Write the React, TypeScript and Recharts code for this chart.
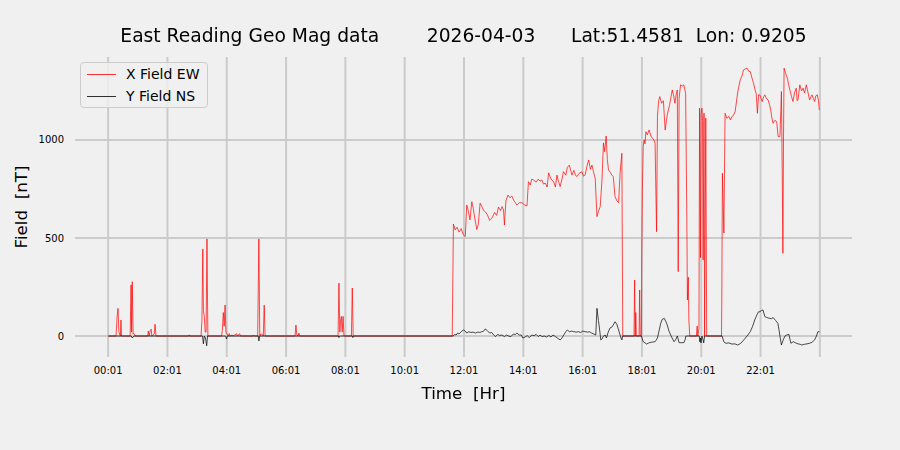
import { LineChart, Line, XAxis, YAxis, CartesianGrid } from "recharts";

// X Field EW (red): hours after midnight, nT
const ewTimes = [
  0.02, 0.28, 0.3, 0.32, 0.35, 0.38, 0.43, 0.45, 0.47,
  0.76, 0.79, 0.81, 0.83, 0.86, 0.89, 0.93,
  1.35, 1.37, 1.4, 1.44, 1.47, 1.49, 1.57, 1.6, 1.63,
  2.73, 2.75, 2.77,
  3.15, 3.18, 3.21, 3.23, 3.26, 3.29, 3.32, 3.35, 3.38,
  3.84, 3.87, 3.9, 3.93, 3.96, 3.99, 4.03, 4.06, 4.1, 4.13, 4.2, 4.23, 4.35, 4.38, 4.45, 4.48,
  4.9, 4.92, 4.95, 5.06, 5.1, 5.13, 5.16, 5.2, 5.25, 5.28, 5.31,
  6.32, 6.35, 6.38, 6.42, 6.45, 6.48,
  7.77, 7.8, 7.83, 7.85, 7.88, 7.91, 7.94, 7.97, 8.22, 8.25, 8.28,
  11.62, 11.66, 11.72, 11.78, 11.85, 11.92, 12.0, 12.06, 12.11, 12.16, 12.22, 12.28, 12.33, 12.38,
  12.45, 12.5, 12.56, 12.62, 12.68, 12.73, 12.8, 12.88, 12.96, 13.05, 13.12, 13.18, 13.25, 13.3,
  13.35, 13.38, 13.43, 13.5, 13.57, 13.63, 13.7, 13.75, 13.8, 13.88, 13.97, 14.05, 14.14, 14.19,
  14.25, 14.3, 14.36, 14.45, 14.52, 14.58, 14.64, 14.7, 14.76, 14.82, 14.87, 14.95, 15.04, 15.1,
  15.15, 15.2, 15.26, 15.32, 15.37, 15.45, 15.5, 15.57, 15.62, 15.66, 15.72, 15.78, 15.82, 15.9,
  15.99, 16.05, 16.1, 16.17, 16.22, 16.28, 16.33, 16.38, 16.44, 16.5, 16.56, 16.61, 16.67, 16.72,
  16.76, 16.81, 16.85, 16.89, 16.95, 17.0, 17.05, 17.11, 17.17, 17.23, 17.28, 17.34, 17.37,
  17.75, 17.77, 17.79, 17.81, 17.83, 17.92, 17.94, 17.96,
  18.0, 18.01, 18.03, 18.06, 18.09, 18.12, 18.15, 18.2, 18.26, 18.32, 18.37, 18.42, 18.46, 18.51,
  18.54, 18.58, 18.62, 18.68, 18.74, 18.8, 18.87, 18.95, 19.04, 19.08, 19.13, 19.18, 19.21, 19.24,
  19.27, 19.32, 19.38, 19.43, 19.49, 19.53, 19.55, 19.58, 19.6, 19.63,
  19.85, 19.88, 19.9, 19.94, 19.96, 19.99, 20.01, 20.04, 20.06, 20.08, 20.11, 20.13, 20.17, 20.2,
  20.7, 20.71, 20.73, 20.78, 20.82, 20.88, 20.95, 21.0, 21.05, 21.1, 21.16, 21.25, 21.33, 21.4,
  21.44, 21.5, 21.56, 21.62, 21.67, 21.72, 21.78, 21.84, 21.87, 21.91, 21.95, 21.99, 22.04, 22.07,
  22.12, 22.16, 22.22, 22.27, 22.32, 22.36, 22.4, 22.44, 22.5, 22.56, 22.61, 22.67, 22.7, 22.72,
  22.75, 22.77, 22.79, 22.81, 22.86, 22.92, 22.98, 23.06, 23.11, 23.16, 23.22, 23.25, 23.28, 23.34,
  23.4, 23.45, 23.5, 23.56, 23.62, 23.67, 23.72, 23.75, 23.8, 23.84, 23.88, 23.93, 23.97, 24.0,
];
const ewField = [
  0, 0, 40, 100, 141, 20, 0, 82, 0,
  0, 260, 20, 277, 10, 12, 0,
  0, 25, 0, 30, 35, 0, 10, 60, 0,
  0, 6, 0,
  0, 80, 444, 130, 100, 20, 20, 495, 0,
  0, 30, 120, 50, 158, 20, 10, 0, 12, 0, 5, 0, 12, 0, 12, 0,
  0, 5, 0, 0, 495, 0, 10, 10, 0, 158, 0,
  0, 56, 5, 0, 15, 0,
  0, 270, 20, 72, 100, 20, 100, 0, 0, 245, 0,
  0, 571, 541, 555, 530, 548, 515, 507, 668, 640, 592, 685, 650, 600,
  543, 570, 678, 660, 640, 634, 620, 590, 602, 630, 615, 658, 640, 660,
  643, 566, 690, 719, 705, 714, 690, 680, 668, 680, 680, 670, 663, 787,
  770, 800, 796, 785, 800, 790, 796, 775, 780, 760, 832, 800, 787, 760,
  821, 790, 762, 800, 838, 820, 860, 872, 840, 821, 845, 820, 813, 830,
  838, 815, 821, 870, 898, 850, 872, 838, 806, 609, 640, 660, 796, 985,
  940, 1020, 900, 847, 835, 821, 813, 711, 690, 680, 832, 932, 0,
  0, 286, 0, 120, 0, 0, 235, 0,
  0, 398, 737, 966, 1000, 980, 1042, 1026, 1051, 1020, 1009, 1000, 983, 532,
  1119, 1200, 1221, 1187, 1200, 1051, 1128, 1180, 1255, 1230, 1187, 1240, 1255, 328,
  1213, 1281, 1275, 1281, 1238, 600, 184, 300, 82, 0,
  0, 51, 0, 40, 1162, 400, 1130, 1162, 1100, 388, 1136, 0, 1111, 0,
  0, 184, 830, 525, 1136, 1110, 1120, 1102, 1119, 1125, 1145, 1247, 1306, 1330,
  1357, 1362, 1366, 1350, 1349, 1320, 1289, 1250, 1238, 1136, 1230, 1230, 1210, 1196,
  1220, 1230, 1210, 1204, 1180, 1153, 1110, 1085, 1100, 1094, 1017, 1017, 1150, 1247,
  800, 422, 1000, 1366, 1340, 1315, 1270, 1221, 1196, 1240, 1264, 1200, 1204, 1281,
  1250, 1264, 1240, 1281, 1240, 1204, 1220, 1230, 1210, 1196, 1225, 1230, 1200, 1153,
];

// Y Field NS (black)
const nsTimes = [
  0.02, 0.8, 0.83, 0.86, 0.89, 3.2, 3.23, 3.26, 3.3, 3.34, 3.37, 3.98, 4.01, 4.04,
  5.08, 5.1, 5.13, 7.78, 7.8, 7.82, 8.25, 8.27, 8.29,
  11.66, 11.7, 11.75, 11.8, 11.85, 11.92, 12.0, 12.06, 12.11, 12.18, 12.25, 12.32, 12.4, 12.48,
  12.55, 12.62, 12.68, 12.73, 12.8, 12.88, 12.95, 13.02, 13.08, 13.15, 13.22, 13.3, 13.38, 13.45,
  13.52, 13.6, 13.68, 13.75, 13.8, 13.88, 13.95, 14.0, 14.08, 14.15, 14.22, 14.3, 14.38, 14.45,
  14.52, 14.58, 14.65, 14.72, 14.8, 14.88, 14.95, 15.02, 15.1, 15.18, 15.26, 15.32, 15.38, 15.45,
  15.5, 15.57, 15.65, 15.72, 15.8, 15.88, 15.95, 16.02, 16.1, 16.18, 16.25, 16.32, 16.4, 16.46,
  16.5, 16.55, 16.6, 16.63, 16.67, 16.72, 16.78, 16.82, 16.88, 16.94, 17.0, 17.05, 17.11, 17.17,
  17.23, 17.3, 17.34, 17.37,
  18.0, 18.03, 18.06, 18.12, 18.17, 18.25, 18.32, 18.4, 18.46, 18.5, 18.54, 18.6, 18.65, 18.7,
  18.77, 18.82, 18.87, 18.93, 19.0, 19.05, 19.1, 19.15, 19.21, 19.27, 19.35, 19.43, 19.47, 19.5,
  19.95, 19.97, 19.99, 20.01, 20.04, 20.08, 20.1, 20.13,
  20.72, 20.78, 20.85, 20.95, 21.05, 21.15, 21.25, 21.35, 21.45, 21.56, 21.67, 21.75, 21.82, 21.9,
  21.95, 21.99, 22.05, 22.1, 22.16, 22.22, 22.27, 22.33, 22.38, 22.44, 22.52, 22.6, 22.64, 22.67,
  22.72, 22.78, 22.84, 22.9, 22.97, 23.04, 23.12, 23.2, 23.28, 23.35, 23.41, 23.5, 23.58, 23.67,
  23.75, 23.84, 23.9, 23.95, 24.0,
];
const nsField = [
  0, 0, -10, -5, 0, 0, -40, 0, -10, -50, 0, 0, -15, 0,
  0, -25, 0, 0, -8, 0, 0, -8, 0,
  0, 8, 5, 15, 10, 22, 31, 25, 15, 22, 18, 20, 15, 20,
  18, 22, 25, 36, 28, 15, 18, 5, -3, 8, 3, 5, -3, 5,
  0, -3, 10, 8, 15, 5, 5, -10, -5, 2, -8, 5, 2, 8,
  -3, 5, -3, 0, -5, 3, -5, 5, -3, -12, -20, -10, 5, 22,
  31, 22, 25, 22, 20, 22, 18, 25, 22, 20, 22, 15, 10, 5,
  141, 80, 20, -20, -15, 0, 5, -10, 20, 41, 45, 56, 73, 60,
  31, -5, -20, 0,
  0, -15, -29, -35, -41, -35, -32, -30, -29, -20, -10, 30, 65, 85,
  90, 75, 56, 25, 0, -15, -29, -20, 0, -34, -34, -34, -20, 0,
  0, -30, -10, -35, 0, -20, -35, 0,
  0, -30, -37, -35, -41, -40, -46, -37, -20, 0, 22, 50, 82, 110,
  124, 124, 130, 133, 99, 95, 92, 90, 88, 94, 80, 65, 30, 0,
  -46, -20, 0, 5, 9, -37, -29, -35, -40, -42, -46, -42, -40, -37,
  -32, -20, 0, 22, 22,
];

const tickHours = [0.0167, 2.0167, 4.0167, 6.0167, 8.0167, 10.0167, 12.0167, 14.0167, 16.0167, 18.0167, 20.0167, 22.0167, 24.0167];
const tickLabels = ["00:01", "02:01", "04:01", "06:01", "08:01", "10:01", "12:01", "14:01", "16:01", "18:01", "20:01", "22:01", ""];
const fieldTicks = [0, 500, 1000];
const hourDomain: [number, number] = [-1.1, 25.1];
const fieldDomain: [number, number] = [-107, 1423];

type Row = { t: number; ew?: number; ns?: number };

const rows: Row[] = [
  ...ewTimes.map((t, i) => ({ t, ew: ewField[i] })),
  ...nsTimes.map((t, i) => ({ t, ns: nsField[i] })),
].sort((a, b) => a.t - b.t);

const font = "'DejaVu Sans', sans-serif";

// grid only at the tick positions (no frame round the plot)
const vGrid = ({ offset }: any) =>
  tickHours.map(
    (h) => offset.left + (offset.width * (h - hourDomain[0])) / (hourDomain[1] - hourDomain[0])
  );
const hGrid = ({ offset }: any) =>
  fieldTicks.map(
    (v) => offset.top + (offset.height * (fieldDomain[1] - v)) / (fieldDomain[1] - fieldDomain[0])
  );

export default function App() {
  return (
    <div
      style={{
        position: "fixed",
        left: 0,
        top: 0,
        width: 900,
        height: 450,
        background: "#f0f0f0",
        fontFamily: font,
        color: "#000",
      }}
    >
      <LineChart width={900} height={450} data={rows} margin={{ top: 57, right: 48, left: 35, bottom: 63 }}>
        <CartesianGrid
          stroke="#cbcbcb"
          strokeWidth={2}
          verticalCoordinatesGenerator={vGrid}
          horizontalCoordinatesGenerator={hGrid}
        />
        <XAxis
          dataKey="t"
          type="number"
          domain={hourDomain}
          ticks={tickHours}
          interval={0}
          allowDataOverflow
          height={30}
          axisLine={false}
          tickLine={false}
          tickSize={0}
          tickMargin={10}
          tickFormatter={(_v: number, i: number) => tickLabels[i]}
          tick={{ fontSize: 10, fill: "#000", fontFamily: font }}
        />
        <YAxis
          type="number"
          domain={fieldDomain}
          ticks={fieldTicks}
          allowDataOverflow
          width={40}
          axisLine={false}
          tickLine={false}
          tickSize={0}
          tickMargin={11}
          tick={{ fontSize: 10, fill: "#000", fontFamily: font }}
        />
        <Line
          dataKey="ew"
          type="linear"
          stroke="#ff0000"
          strokeWidth={0.7}
          dot={false}
          connectNulls
          isAnimationActive={false}
        />
        <Line
          dataKey="ns"
          type="linear"
          stroke="#000000"
          strokeWidth={0.7}
          dot={false}
          connectNulls
          isAnimationActive={false}
        />
      </LineChart>

      <div
        style={{
          position: "absolute",
          left: 0,
          width: 927,
          top: 25,
          textAlign: "center",
          fontSize: 18.7,
          lineHeight: "22px",
          whiteSpace: "pre",
        }}
      >
        {"East Reading Geo Mag data        2026-04-03      Lat:51.4581  Lon: 0.9205"}
      </div>

      <div
        style={{
          position: "absolute",
          left: 0,
          width: 927,
          top: 383,
          textAlign: "center",
          fontSize: 16.7,
          lineHeight: "20px",
          whiteSpace: "pre",
        }}
      >
        {"Time  [Hr]"}
      </div>

      <div
        style={{
          position: "absolute",
          left: 21,
          top: 207,
          fontSize: 16.7,
          lineHeight: "20px",
          whiteSpace: "pre",
          transform: "translate(-50%, -50%) rotate(-90deg)",
        }}
      >
        {"Field  [nT]"}
      </div>

      <div
        style={{
          position: "absolute",
          left: 80,
          top: 62,
          width: 126,
          height: 44,
          border: "1px solid #cccccc",
          borderRadius: 4,
          background: "rgba(240,240,240,0.8)",
          fontSize: 14,
        }}
      >
        {[
          { name: "X Field EW", color: "#ff0000", y: 11 },
          { name: "Y Field NS", color: "#000000", y: 33 },
        ].map((s) => (
          <div key={s.name}>
            <div
              style={{
                position: "absolute",
                left: 6,
                top: s.y,
                width: 29,
                height: 0,
                borderTop: `1px solid ${s.color}`,
                opacity: 0.8,
              }}
            />
            <div
              style={{
                position: "absolute",
                left: 45,
                top: s.y - 9,
                lineHeight: "18px",
                whiteSpace: "pre",
              }}
            >
              {s.name}
            </div>
          </div>
        ))}
      </div>
    </div>
  );
}
